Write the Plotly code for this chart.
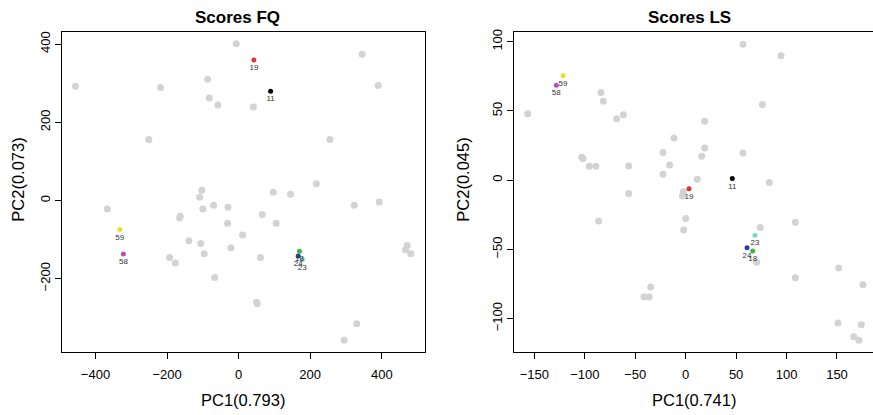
import plotly.graph_objects as go

# ---------------- data: Scores FQ ----------------
fq_gray_x = [-456, -6.7, 345, 390, -218, -86.6, -82, -58, 41, -251, 255, 217, -103, -109, 96.7, 145,
             323, 393, -70, -30, -100, -367, -163, -165, 66, -31, 105, 11, -139, -106, -21.5, -96,
             -193, -177, 61, 471, 466, 481, -67, 50, 52, 330, 295]
fq_gray_y = [292, 401, 374, 294, 289, 310, 262, 244, 239, 156, 156, 43, 26, 8, 21, 16,
             -12, -4, -12, -17, -22, -22, -40, -45, -36, -58, -58, -88, -103, -110, -121, -136,
             -146, -160, -146, -115, -126, -136, -197, -260, -264, -315, -357]

hl_labels = ["11", "19", "18", "24", "23", "59", "58"]
hl_colors = ["#000000", "#E8302A", "#3DB83D", "#2E3C9C", "#7FD6CE", "#E6DF2E", "#C24AB6"]
fq_hl_x = [89.4, 42.7, 170, 166.5, 178, -332, -322]
fq_hl_y = [279, 359, -130, -142, -151, -74, -137]

# ---------------- data: Scores LS ----------------
ls_gray_x = [-156.6, -84, -81.7, -68.4, -61.8, 56.8, 94.5, 76, 18.8, -11.6, -101.8, -103, -95.5, -89,
             -56.5, -22.5, 18.8, 15.9, -15.9, -22.5, 56.8, 11.5, 82.9, -2.3, -3.3, -56.5, -86.3, 0,
             -2, 74, 108.7, 70.4, 151.7, 108.7, 175.8, -34.7, -41.3, -36.1, 151, 174.1, 166.6, 171.8]
ls_gray_y = [48, 63.3, 57, 44.4, 47.3, 98.2, 89.8, 54.7, 42.5, 30.5, 15.7, 16.5, 10, 10,
             10.2, 20, 23.2, 17.2, 11, 4.3, 19.6, 0.7, -1.7, -8.4, -11.5, -9.6, -29.4, -27.7,
             -35.9, -34.2, -30.4, -59.3, -63.4, -70.5, -75.6, -77.2, -84.1, -84.4, -103.2, -104.4, -113, -115.6]
ls_hl_x = [46.2, 3.3, 66.4, 60.8, 68.7, -121.6, -128.3]
ls_hl_y = [1.2, -6.2, -51.2, -48.8, -39.7, 75.5, 68.5]

fq_xticks = [-400, -200, 0, 200, 400]
fq_yticks = [-200, 0, 200, 400]
ls_xticks = [-150, -100, -50, 0, 50, 100, 150]
ls_yticks = [-100, -50, 0, 50, 100]

FONT = "Liberation Sans, Arial, Helvetica, sans-serif"
GRAY = "#D3D3D3"

fig = go.Figure()

for gx, gy, hx, hy, xa, ya in [
    (fq_gray_x, fq_gray_y, fq_hl_x, fq_hl_y, "x", "y"),
    (ls_gray_x, ls_gray_y, ls_hl_x, ls_hl_y, "x2", "y2"),
]:
    fig.add_trace(go.Scatter(x=gx, y=gy, mode="markers", xaxis=xa, yaxis=ya,
                             marker=dict(color=GRAY, size=7, line=dict(width=0)),
                             showlegend=False, hoverinfo="skip"))
    fig.add_trace(go.Scatter(x=hx, y=hy, mode="markers+text", xaxis=xa, yaxis=ya,
                             text=hl_labels, textposition="bottom center",
                             textfont=dict(family=FONT, size=8, color="#333333"),
                             marker=dict(color=hl_colors, size=5, line=dict(width=0)),
                             showlegend=False))

axis_common = dict(showgrid=False, zeroline=False, showline=True, linecolor="black", linewidth=1,
                   ticks="outside", ticklen=6, tickcolor="black", tickwidth=1,
                   tickfont=dict(family=FONT, size=13, color="black"))

fig.update_layout(
    width=873, height=415,
    margin=dict(l=0, r=0, t=0, b=0),
    paper_bgcolor="white", plot_bgcolor="white",
    xaxis=dict(domain=[0.0710, 0.4868], range=[-493.6, 520.7], tickvals=fq_xticks,
               mirror=True, anchor="y", ticklabelstandoff=4, **axis_common),
    yaxis=dict(domain=[0.1525, 0.9294], range=[-387.8, 430.5], tickvals=fq_yticks,
               mirror=True, anchor="x", tickangle=-90, **axis_common),
    xaxis2=dict(domain=[0.5888, 1.0], range=[-170.2, 185.7], tickvals=ls_xticks,
                mirror=True, anchor="y2", ticklabelstandoff=4, **axis_common),
    yaxis2=dict(domain=[0.1525, 0.9294], range=[-124.2, 106.95], tickvals=ls_yticks,
                mirror=False, anchor="x2", tickangle=-90, **axis_common),
)

annos = [
    dict(text="<b>Scores FQ</b>", x=238 / 873, y=1 - 15 / 415, size=17, angle=0),
    dict(text="<b>Scores LS</b>", x=689 / 873, y=1 - 15 / 415, size=17, angle=0),
    dict(text="PC1(0.793)", x=243 / 873, y=1 - 400 / 415, size=16.5, angle=0),
    dict(text="PC1(0.741)", x=694 / 873, y=1 - 400 / 415, size=16.5, angle=0),
    dict(text="PC2(0.073)", x=18 / 873, y=1 - 178 / 415, size=16.5, angle=-90),
    dict(text="PC2(0.045)", x=463 / 873, y=1 - 178 / 415, size=16.5, angle=-90),
]
for a in annos:
    fig.add_annotation(text=a["text"], x=a["x"], y=a["y"], xref="paper", yref="paper",
                       xanchor="center", yanchor="middle", showarrow=False, textangle=a["angle"],
                       font=dict(family=FONT, size=a["size"], color="black"))

fig.write_html("out.html")
